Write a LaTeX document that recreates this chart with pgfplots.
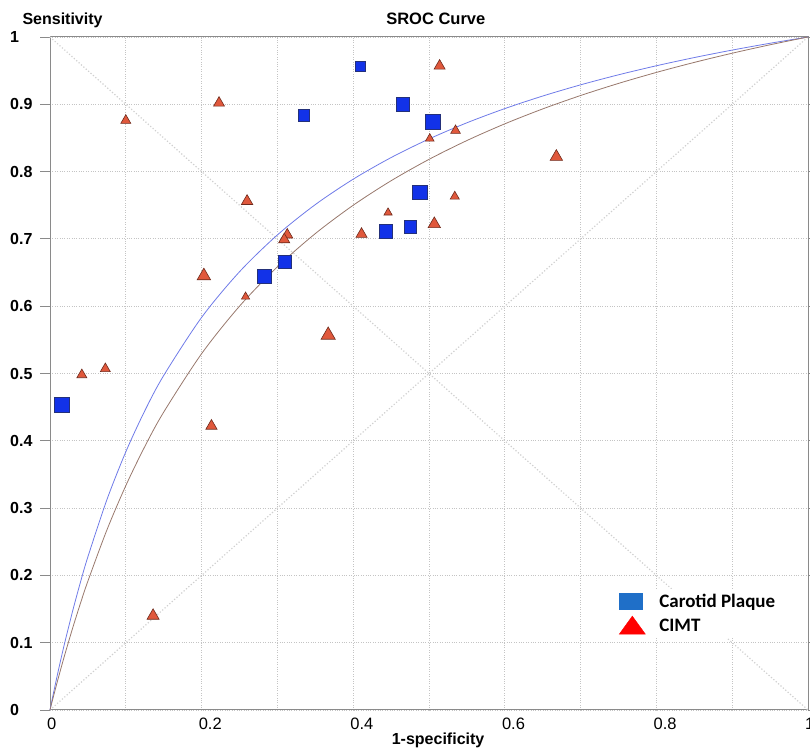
\documentclass[border=0pt]{standalone}
\usepackage{pgfplots}
\usepackage{pgfplotstable}
\pgfplotsset{compat=1.18}
\usepackage{fontspec}
\setmainfont{Liberation Sans}
\newfontfamily\calibri{Carlito}

\definecolor{sqfill}{HTML}{1232E8}
\definecolor{sqedge}{HTML}{23307A}
\definecolor{trifill}{HTML}{E0583C}
\definecolor{triedge}{HTML}{6E2A1C}
\definecolor{curveA}{HTML}{6F7BE8}
\definecolor{curveB}{HTML}{98786C}
\definecolor{gridc}{HTML}{C4C4C4}
\definecolor{diagc}{HTML}{D0D0D0}
\definecolor{framec}{HTML}{8A8A8A}
\definecolor{legblue}{HTML}{1F6FC8}

% carotid plaque studies: 1-spec, sens, half side of marker
\pgfplotstableread{
x y s
0.016 0.454 7.4
0.283 0.645 7.0
0.310 0.666 6.8
0.335 0.884 5.8
0.409 0.957 5.0
0.465 0.900 6.6
0.505 0.874 7.6
0.488 0.769 7.2
0.443 0.711 6.8
0.475 0.718 6.2
}\plaque

% CIMT studies
\pgfplotstableread{
x y s
0.514 0.957 6.4
0.535 0.861 5.6
0.501 0.849 5.0
0.260 0.756 6.6
0.534 0.763 5.3
0.446 0.739 4.8
0.507 0.722 7.2
0.411 0.707 6.5
0.313 0.706 6.4
0.309 0.699 6.4
0.203 0.645 7.8
0.258 0.614 4.8
0.367 0.557 8.2
0.042 0.498 5.8
0.073 0.507 5.8
0.100 0.876 5.8
0.223 0.902 6.3
0.668 0.822 7.2
0.213 0.422 6.5
0.136 0.140 7.0
}\cimt

\begin{document}
\begin{tikzpicture}
\begin{axis}[
scale only axis,
width=758bp,height=673bp,
xmin=0,xmax=1,ymin=0,ymax=1,
clip=false,
axis line style={framec,line width=1bp},
xtick={0,0.2,0.4,0.6,0.8,1},
minor xtick={0.1,0.3,0.5,0.7,0.9},
ytick={0,0.1,0.2,0.3,0.4,0.5,0.6,0.7,0.8,0.9,1},
grid=both,
major grid style={gridc,dotted,line width=0.8bp},
minor grid style={gridc,dotted,line width=0.8bp},
tick align=outside,
major tick length=10bp,
minor tick length=0bp,
xtick style={draw=none},
ytick style={framec,line width=0.8bp},
/pgf/number format/assume math mode=true,
xticklabel style={font=\fontsize{16.5bp}{16.5bp}\selectfont,inner sep=0pt,anchor=north west,xshift=-3bp,yshift=2bp},
yticklabel style={font=\bfseries\fontsize{16bp}{16bp}\selectfont,inner sep=0pt,anchor=west,xshift=-30bp},
legend style={at={(rel axis cs:0.74,0.180)},anchor=north west,draw=none,fill=white,
  inner xsep=8bp,inner ysep=3bp,row sep=5bp,
  font=\calibri\bfseries\fontsize{19bp}{23bp}\selectfont},
legend cell align=left,
]
% reference diagonals
\addplot[forget plot,diagc,dotted,line width=1.2bp] coordinates {(0,0)(1,1)};
\addplot[forget plot,diagc,dotted,line width=1.2bp] coordinates {(0,1)(1,0)};

% SROC curves
\addplot[forget plot,curveA,line width=0.8bp,smooth] coordinates {
(0,0)(0.0025,0.01384)(0.005,0.02737)(0.01,0.05354)(0.015,0.07858)(0.02,0.10256)
(0.03,0.14763)(0.04,0.18919)(0.05,0.22764)(0.075,0.31227)(0.1,0.38356)
(0.125,0.44444)(0.15,0.49704)(0.2,0.58333)(0.25,0.65116)(0.3,0.70588)
(0.35,0.75096)(0.4,0.78873)(0.45,0.82085)(0.5,0.84848)(0.55,0.87252)
(0.6,0.89362)(0.65,0.91228)(0.7,0.92891)(0.75,0.94382)(0.8,0.95726)
(0.85,0.96945)(0.9,0.98054)(0.95,0.99069)(1,1)
};
\addplot[forget plot,curveB,line width=0.8bp,smooth] coordinates {
(0,0)(0.0025,0.01115)(0.005,0.02211)(0.01,0.04348)(0.015,0.06413)(0.02,0.08411)
(0.03,0.12217)(0.04,0.15789)(0.05,0.19149)(0.075,0.26733)(0.1,0.33333)
(0.125,0.39130)(0.15,0.44262)(0.2,0.52941)(0.25,0.6)(0.3,0.65854)
(0.35,0.70787)(0.4,0.75)(0.45,0.78641)(0.5,0.81818)(0.55,0.84615)
(0.6,0.87097)(0.65,0.89313)(0.7,0.91304)(0.75,0.93103)(0.8,0.94737)
(0.85,0.96226)(0.9,0.97590)(0.95,0.98844)(1,1)
};

% study points
\addplot[forget plot,scatter,only marks,mark=triangle*,
  scatter/use mapped color={draw=triedge,fill=trifill},
  visualization depends on={\thisrow{s}\as\ms},
  scatter/@pre marker code/.append style={/tikz/mark size=\ms},
  mark options={line width=0.6bp}] table {\cimt};
\addplot[forget plot,scatter,only marks,mark=square*,
  scatter/use mapped color={draw=sqedge,fill=sqfill},
  visualization depends on={\thisrow{s}\as\ms},
  scatter/@pre marker code/.append style={/tikz/mark size=\ms},
  mark options={line width=0.6bp}] table {\plaque};

\addlegendimage{legend image code/.code={\fill[legblue] (0bp,-8bp) rectangle (23bp,8bp); \path[draw=none,fill=none] (0bp,0bp) -- (38bp,0bp);}}
\addlegendentry{Carotid Plaque}
\addlegendimage{legend image code/.code={\fill[red] (0bp,-8bp) -- (26bp,-8bp) -- (13bp,10bp) -- cycle; \path[draw=none,fill=none] (0bp,0bp) -- (38bp,0bp);}}
\addlegendentry{CIMT}

\node[anchor=base west,font=\bfseries\fontsize{16bp}{16bp}\selectfont,xshift=-31bp,yshift=12bp] at (rel axis cs:0,1) {Sensitivity};
\node[anchor=base,font=\bfseries\fontsize{16.5bp}{16.5bp}\selectfont,yshift=12bp] at (rel axis cs:0.509,1) {SROC Curve};
\node[anchor=base,font=\bfseries\fontsize{16bp}{16bp}\selectfont,yshift=-35bp] at (rel axis cs:0.512,0) {1-specificity};
\coordinate (bl) at (rel axis cs:0,0);
\coordinate (tr) at (rel axis cs:1,1);
\end{axis}
\pgfresetboundingbox
\path[use as bounding box] ([shift={(-50bp,-39bp)}]bl) rectangle ([shift={(2bp,37bp)}]tr);
\end{tikzpicture}
\end{document}
